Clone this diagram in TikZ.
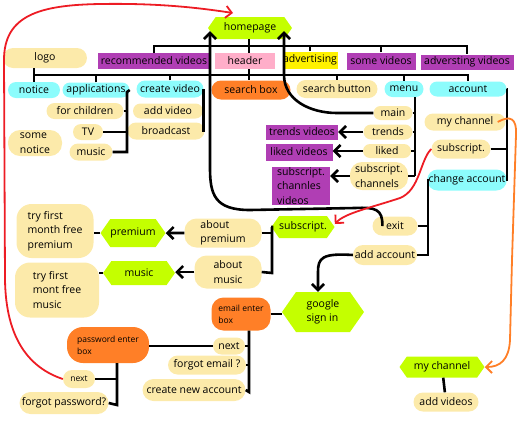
\documentclass[tikz,border=0pt]{standalone}
\usepackage{fontspec}
\setmainfont{Open Sans}
\usetikzlibrary{shapes.symbols,shapes.misc,arrows.meta}

\definecolor{hexgreen}{RGB}{196,255,0}
\definecolor{cream}{RGB}{252,234,170}
\definecolor{aquablue}{RGB}{140,252,252}
\definecolor{grape}{RGB}{176,62,180}
\definecolor{rosepink}{RGB}{255,174,201}
\definecolor{lemon}{RGB}{255,242,0}
\definecolor{tangerine}{RGB}{255,127,39}
\definecolor{penred}{RGB}{237,28,36}

\tikzset{
  box/.style={inner sep=0pt, font=\fontsize{10.5}{14.5}\selectfont},
  small/.style={font=\fontsize{8.5}{12}\selectfont},
  pill/.style={box, rounded rectangle, fill=cream},
  blob/.style={box, rounded corners=12pt, fill=cream, align=left},
  sky/.style={box, rounded rectangle, fill=aquablue},
  tag/.style={box, rectangle, fill=grape},
  hexa/.style={box, signal, signal to=west and east, signal pointer angle=110, fill=hexgreen},
  link/.style={line width=2.6pt},
  arr/.style={link, -{Straight Barb[length=6pt,width=12pt]}},
  redarr/.style={draw=penred, line width=1.8pt, -{Straight Barb[length=6pt,width=12pt]}},
  orangearr/.style={draw=tangerine, line width=1.8pt, -{Straight Barb[length=6pt,width=12pt]}}
}

\begin{document}
\begin{tikzpicture}[x=1pt,y=-1pt]
  \useasboundingbox (0,0) rectangle (520,432);

  % top row
  \node[hexa, minimum width=84pt, minimum height=22pt] (homepage) at (250,28) {homepage};
  \node[pill, minimum width=84pt, minimum height=20pt] (logo) at (45,58) {logo};
  \node[tag, minimum width=112pt, minimum height=16pt] (recvid) at (154,61) {recommended videos};
  \node[tag, fill=rosepink, minimum width=60pt, minimum height=16pt] (header) at (245,61) {header};
  \node[tag, fill=lemon, minimum width=55pt, minimum height=17pt] (advert) at (310,60) {advertising};
  \node[tag, minimum width=69pt, minimum height=17pt] (somevid) at (381,61) {some videos};
  \node[tag, minimum width=93pt, minimum height=15pt] (advvid) at (467,62) {adversting videos};

  % second row
  \node[sky, minimum width=52pt, minimum height=16pt] (notice) at (34,90) {notice};
  \node[sky, minimum width=67pt, minimum height=15pt] (apps) at (96,90) {applications};
  \node[sky, minimum width=67pt, minimum height=17pt] (createvid) at (170,89) {create video};
  \node[pill, fill=tangerine, minimum width=79pt, minimum height=19pt] (searchbox) at (251,90) {search box};
  \node[pill, minimum width=81pt, minimum height=18pt] (searchbtn) at (337,89) {search button};
  \node[sky, minimum width=39pt, minimum height=16pt] (menu) at (404,89) {menu};
  \node[sky, minimum width=77pt, minimum height=15pt] (account) at (468,89) {account};

  % applications and create video
  \node[pill, minimum width=77pt, minimum height=16pt] (forchildren) at (85,111) {for children};
  \node[pill, minimum width=30pt, minimum height=16pt] (tv) at (88,132) {TV};
  \node[pill, minimum width=43pt, minimum height=17pt] (appmusic) at (91,152) {music};
  \node[blob, minimum width=54pt, minimum height=26pt] (somenotice) at (35,143) {some\\notice};
  \node[pill, minimum width=70pt, minimum height=15pt] (addvideo) at (168,111) {add video};
  \node[pill, minimum width=77pt, minimum height=17pt] (broadcast) at (166,131) {broadcast};

  % menu
  \node[pill, minimum width=39pt, minimum height=14pt] (main) at (393,113) {main};
  \node[pill, minimum width=49pt, minimum height=15pt] (trends) at (388,132) {trends};
  \node[pill, minimum width=48pt, minimum height=14pt] (liked) at (387,151) {liked};
  \node[blob, minimum width=58pt, minimum height=28pt] (subchan) at (379,176) {subscript.\\channels};
  \node[tag, minimum width=72pt, minimum height=15pt] (trendsvid) at (302,132) {trends videos};
  \node[tag, minimum width=67pt, minimum height=17pt] (likedvid) at (299,152) {liked videos};
  \node[tag, align=left, minimum width=58pt, minimum height=37pt] (subchanvid) at (301,186) {subscript.\\channles\\videos};

  % account
  \node[pill, minimum width=81pt, minimum height=17pt] (mychan) at (465,122) {my channel};
  \node[pill, minimum width=59pt, minimum height=19pt] (subscr) at (461,149) {subscript.};
  \node[sky, minimum width=75pt, minimum height=21pt] (changeacc) at (467,180) {change account};
  \node[pill, minimum width=45pt, minimum height=19pt] (exit) at (395,226) {exit};
  \node[pill, minimum width=64pt, minimum height=20pt] (addacc) at (385,255) {add account};

  % subscriptions
  \node[hexa, minimum width=59pt, minimum height=22pt] (subhex) at (303,227) {subscript.};
  \node[blob, minimum width=77pt, minimum height=29pt] (aboutprem) at (223,233) {about\\premium};
  \node[blob, minimum width=67pt, minimum height=33pt] (aboutmusic) at (228,272) {about\\music};
  \node[hexa, minimum width=65pt, minimum height=28pt] (premium) at (133,233) {premium};
  \node[hexa, minimum width=72pt, minimum height=24pt] (music) at (139,273) {music};
  \node[blob, rounded corners=15pt, minimum width=77pt, minimum height=54pt] (tryprem) at (55,231) {try first\\month free\\premium};
  \node[blob, rounded corners=15pt, minimum width=84pt, minimum height=55pt] (trymusic) at (57,290) {try first\\mont free\\music};

  % sign in
  \node[hexa, align=left, minimum width=82pt, minimum height=40pt] (google) at (323,312) {google\\sign in};
  \node[blob, small, fill=tangerine, minimum width=59pt, minimum height=33pt] (email) at (241,314) {email enter\\box};
  \node[pill, minimum width=32pt, minimum height=17pt] (enext) at (229,346) {next};
  \node[pill, minimum width=78pt, minimum height=19pt] (forgotemail) at (207,365) {forgot email ?};
  \node[pill, minimum width=103pt, minimum height=22pt] (newacc) at (194,390) {create new account};
  \node[blob, small, fill=tangerine, rounded corners=16pt, minimum width=82pt, minimum height=36pt] (pwbox) at (108,345) {password enter\\box};
  \node[pill, small, minimum width=32pt, minimum height=18pt] (pnext) at (79,379) {next};
  \node[pill, minimum width=89pt, minimum height=22pt] (forgotpw) at (64,403) {forgot password?};

  % my channel page
  \node[hexa, minimum width=85pt, minimum height=21pt] (mychanhex) at (442,367) {my channel};
  \node[pill, minimum width=65pt, minimum height=19pt] (addvideos) at (446,402) {add videos};

  % brackets
  \coordinate (topbar) at (249,46);
  \coordinate (midbar) at (249,75);
  \draw[link] (homepage.south -| topbar) -- (header.north -| topbar);
  \draw[link] (recvid.north) |- (topbar) -| (advvid.north);
  \draw[link] (advert.north) -- (advert.north |- topbar);
  \draw[link] (somevid.north) -- (somevid.north |- topbar);
  \draw[link] (logo.south -| notice) -- (notice.north);
  \draw[link] (notice.north) |- (midbar) -| (account.north);
  \foreach \n in {apps,createvid,searchbtn,menu}
    \draw[link] (\n.north) -- (\n.north |- midbar);
  \draw[link] (header.south -| midbar) -- (searchbox.north -| midbar);

  \coordinate (appsbrk) at (127,92);
  \draw[link] (apps.east) -- (appsbrk) |- (appmusic.east);
  \draw[link] (forchildren.east) -- (forchildren.east -| appsbrk);
  \draw[link] (tv.east) -- (tv.east -| appsbrk);
  \draw[link] (createvid.east) |- (broadcast.east);
  \draw[link] (addvideo.east) -- (addvideo.east -| createvid.east);

  \coordinate (menubrk) at (415,176);
  \draw[link] (menubrk |- menu.south) -- (menubrk);
  \foreach \n in {main,trends,liked,subchan}
    \draw[link] (\n.east) -- (\n.east -| menubrk);
  \draw[arr] (trends) -- (trendsvid);
  \draw[arr] (liked.west) -- (liked.west -| likedvid.east);
  \draw[arr] (subchan.west) -- (subchan.west -| subchanvid.east);

  \coordinate (accbrk) at (507,180);
  \draw[link] (account.east) -| (accbrk) -- (changeacc.east);
  \foreach \n in {mychan,subscr}
    \draw[link] (\n.east) -- (\n.east -| accbrk);
  \coordinate (chbrk) at (428,255);
  \draw[link] (changeacc.west) -| (chbrk) -- (addacc.east);
  \draw[link] (exit.east) -- (exit.east -| chbrk);

  \coordinate (subbrk) at (272,273);
  \draw[link] (subhex.west) -| (subbrk) -- (aboutmusic.east);
  \draw[link] (aboutprem.east) -- (aboutprem.east -| subbrk);
  \draw[arr] (aboutprem) -- (premium);
  \draw[arr] (aboutmusic.west) -- (aboutmusic.west -| music.east);
  \draw[link] (premium.west) -- (premium.west -| tryprem.east);
  \draw[link] (music.west) -- (music.west -| trymusic.east);

  \draw[link] (email.east) -- (email.east -| google.west);
  \coordinate (embrk) at (249,392);
  \draw[link] (email.south -| embrk) -- (embrk) -- (newacc.east);
  \foreach \n in {enext,forgotemail}
    \draw[link] (\n.east) -- (\n.east -| embrk);
  \draw[link] (enext.west) -- (enext.west -| pwbox.east);
  \coordinate (pwbrk) at (117,405);
  \draw[link] (pwbox.south -| pwbrk) -- (pwbrk) -- (forgotpw.east);
  \draw[link] (pnext.east) -- (pnext.east -| pwbrk);
  \draw[link] (mychanhex) -- (addvideos);

  % jumps back
  \draw[arr] (main.west) -- (337,113) .. controls (310,113) and (284,100) .. (284,75)
    -- ([xshift=34pt,yshift=8pt]homepage.south);
  \draw[arr] ([xshift=10pt]exit.west) .. controls (383,209) and (375,207) .. (355,208)
    -- (250,210) .. controls (215,210) and (210,195) .. (210,168)
    -- ([xshift=-40pt,yshift=8pt]homepage.south);
  \draw[arr] (addacc.west) .. controls (322,253) and (318,258) .. (318,272)
    -- ([xshift=-5pt]google.north);

  \draw[redarr] (pnext.west) .. controls (30,368) and (6,340) .. (5,280) -- (4,60)
    .. controls (4,15) and (40,5) .. (100,4) .. controls (160,3) and (200,8) .. (233,13);
  \draw[redarr] (subscr.west) .. controls (420,160) and (420,190) .. (400,198)
    .. controls (370,208) and (345,213) .. ([yshift=3pt]subhex.east);
  \draw[orangearr] ([xshift=-8pt]mychan.east) .. controls (510,115) and (517,118) .. (516,135)
    -- (512,260) -- (510,340) .. controls (509,360) and (500,367) .. (mychanhex.east);
\end{tikzpicture}
\end{document}
